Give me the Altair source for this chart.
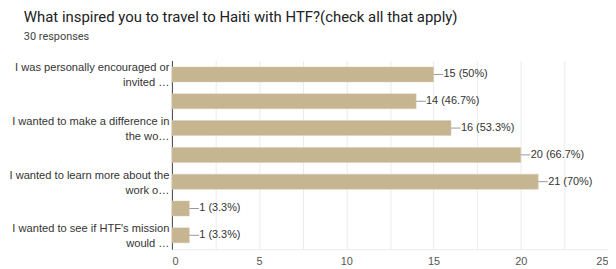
import json
import altair as alt
import pandas as pd

labels = [
    "I was personally encouraged or\ninvited …",
    "",
    "I wanted to make a difference in\nthe wo…",
    "",
    "I wanted to learn more about the\nwork o…",
    "",
    "I wanted to see if HTF's mission\nwould …",
]
values = [15, 14, 16, 20, 21, 1, 1]
pct_text = ["15 (50%)", "14 (46.7%)", "16 (53.3%)", "20 (66.7%)", "21 (70%)", "1 (3.3%)", "1 (3.3%)"]
x_ticks = [0, 2.5, 5, 7.5, 10, 12.5, 15, 17.5, 20, 22.5, 25]

df = pd.DataFrame({
    "row": list(range(len(values))),
    "value": values,
    "txt": pct_text,
})

label_lines = json.dumps([l.split("\n") for l in labels])
label_expr = f"{label_lines}[datum.value]"

y_enc = alt.Y(
    "row:O",
    scale=alt.Scale(paddingInner=0.44, paddingOuter=0.24),
    axis=alt.Axis(
        title=None,
        labelExpr=label_expr,
        ticks=False,
        domainColor="#444",
        labelColor="#333",
        labelFontSize=11.2,
        labelFont="Liberation Sans",
        labelLineHeight=15,
        labelOffset=-6,
        labelPadding=3,
        labelLimit=300,
    ),
)

x_enc = alt.X(
    "value:Q",
    scale=alt.Scale(domain=[0, 25], nice=False),
    axis=alt.Axis(
        title=None,
        values=x_ticks,
        labelExpr="datum.value % 5 == 0 ? datum.label : ''",
        grid=True,
        gridColor="#ebebeb",
        domainColor="#ebebeb",
        ticks=False,
        labelColor="#555",
        labelFontSize=11,
        labelFont="Liberation Sans",
        labelPadding=6,
    ),
)

base = alt.Chart(df).encode(x=x_enc, y=y_enc)

bars = base.mark_bar(color="#c5b591", stroke="#d9ccb0", strokeWidth=0.5)

conn = base.transform_calculate(
    x2v="datum.value + 0.55"
).mark_rule(color="#999", strokeWidth=1).encode(x2="x2v:Q")

text = base.mark_text(
    align="left", baseline="middle", dx=10, fontSize=11, color="#333", font="Liberation Sans"
).encode(text="txt:N")

chart = alt.layer(bars, conn, text).properties(
    width=439,
    height=190,
    padding={"left": 0, "top": 1, "right": 0, "bottom": 0},
    title=alt.TitleParams(
        text="What inspired you to travel to Haiti with HTF?(check all that apply)",
        subtitle="30 responses",
        anchor="start",
        frame="bounds",
        dx=15,
        font="Roboto",
        fontSize=15,
        fontWeight="normal",
        color="#202124",
        subtitleFont="Roboto",
        subtitleFontSize=11,
        subtitleColor="#444",
        subtitlePadding=6,
        offset=19,
    ),
).configure_view(stroke=None)

chart.save("out.html", embed_options={"renderer": "svg", "actions": False})
